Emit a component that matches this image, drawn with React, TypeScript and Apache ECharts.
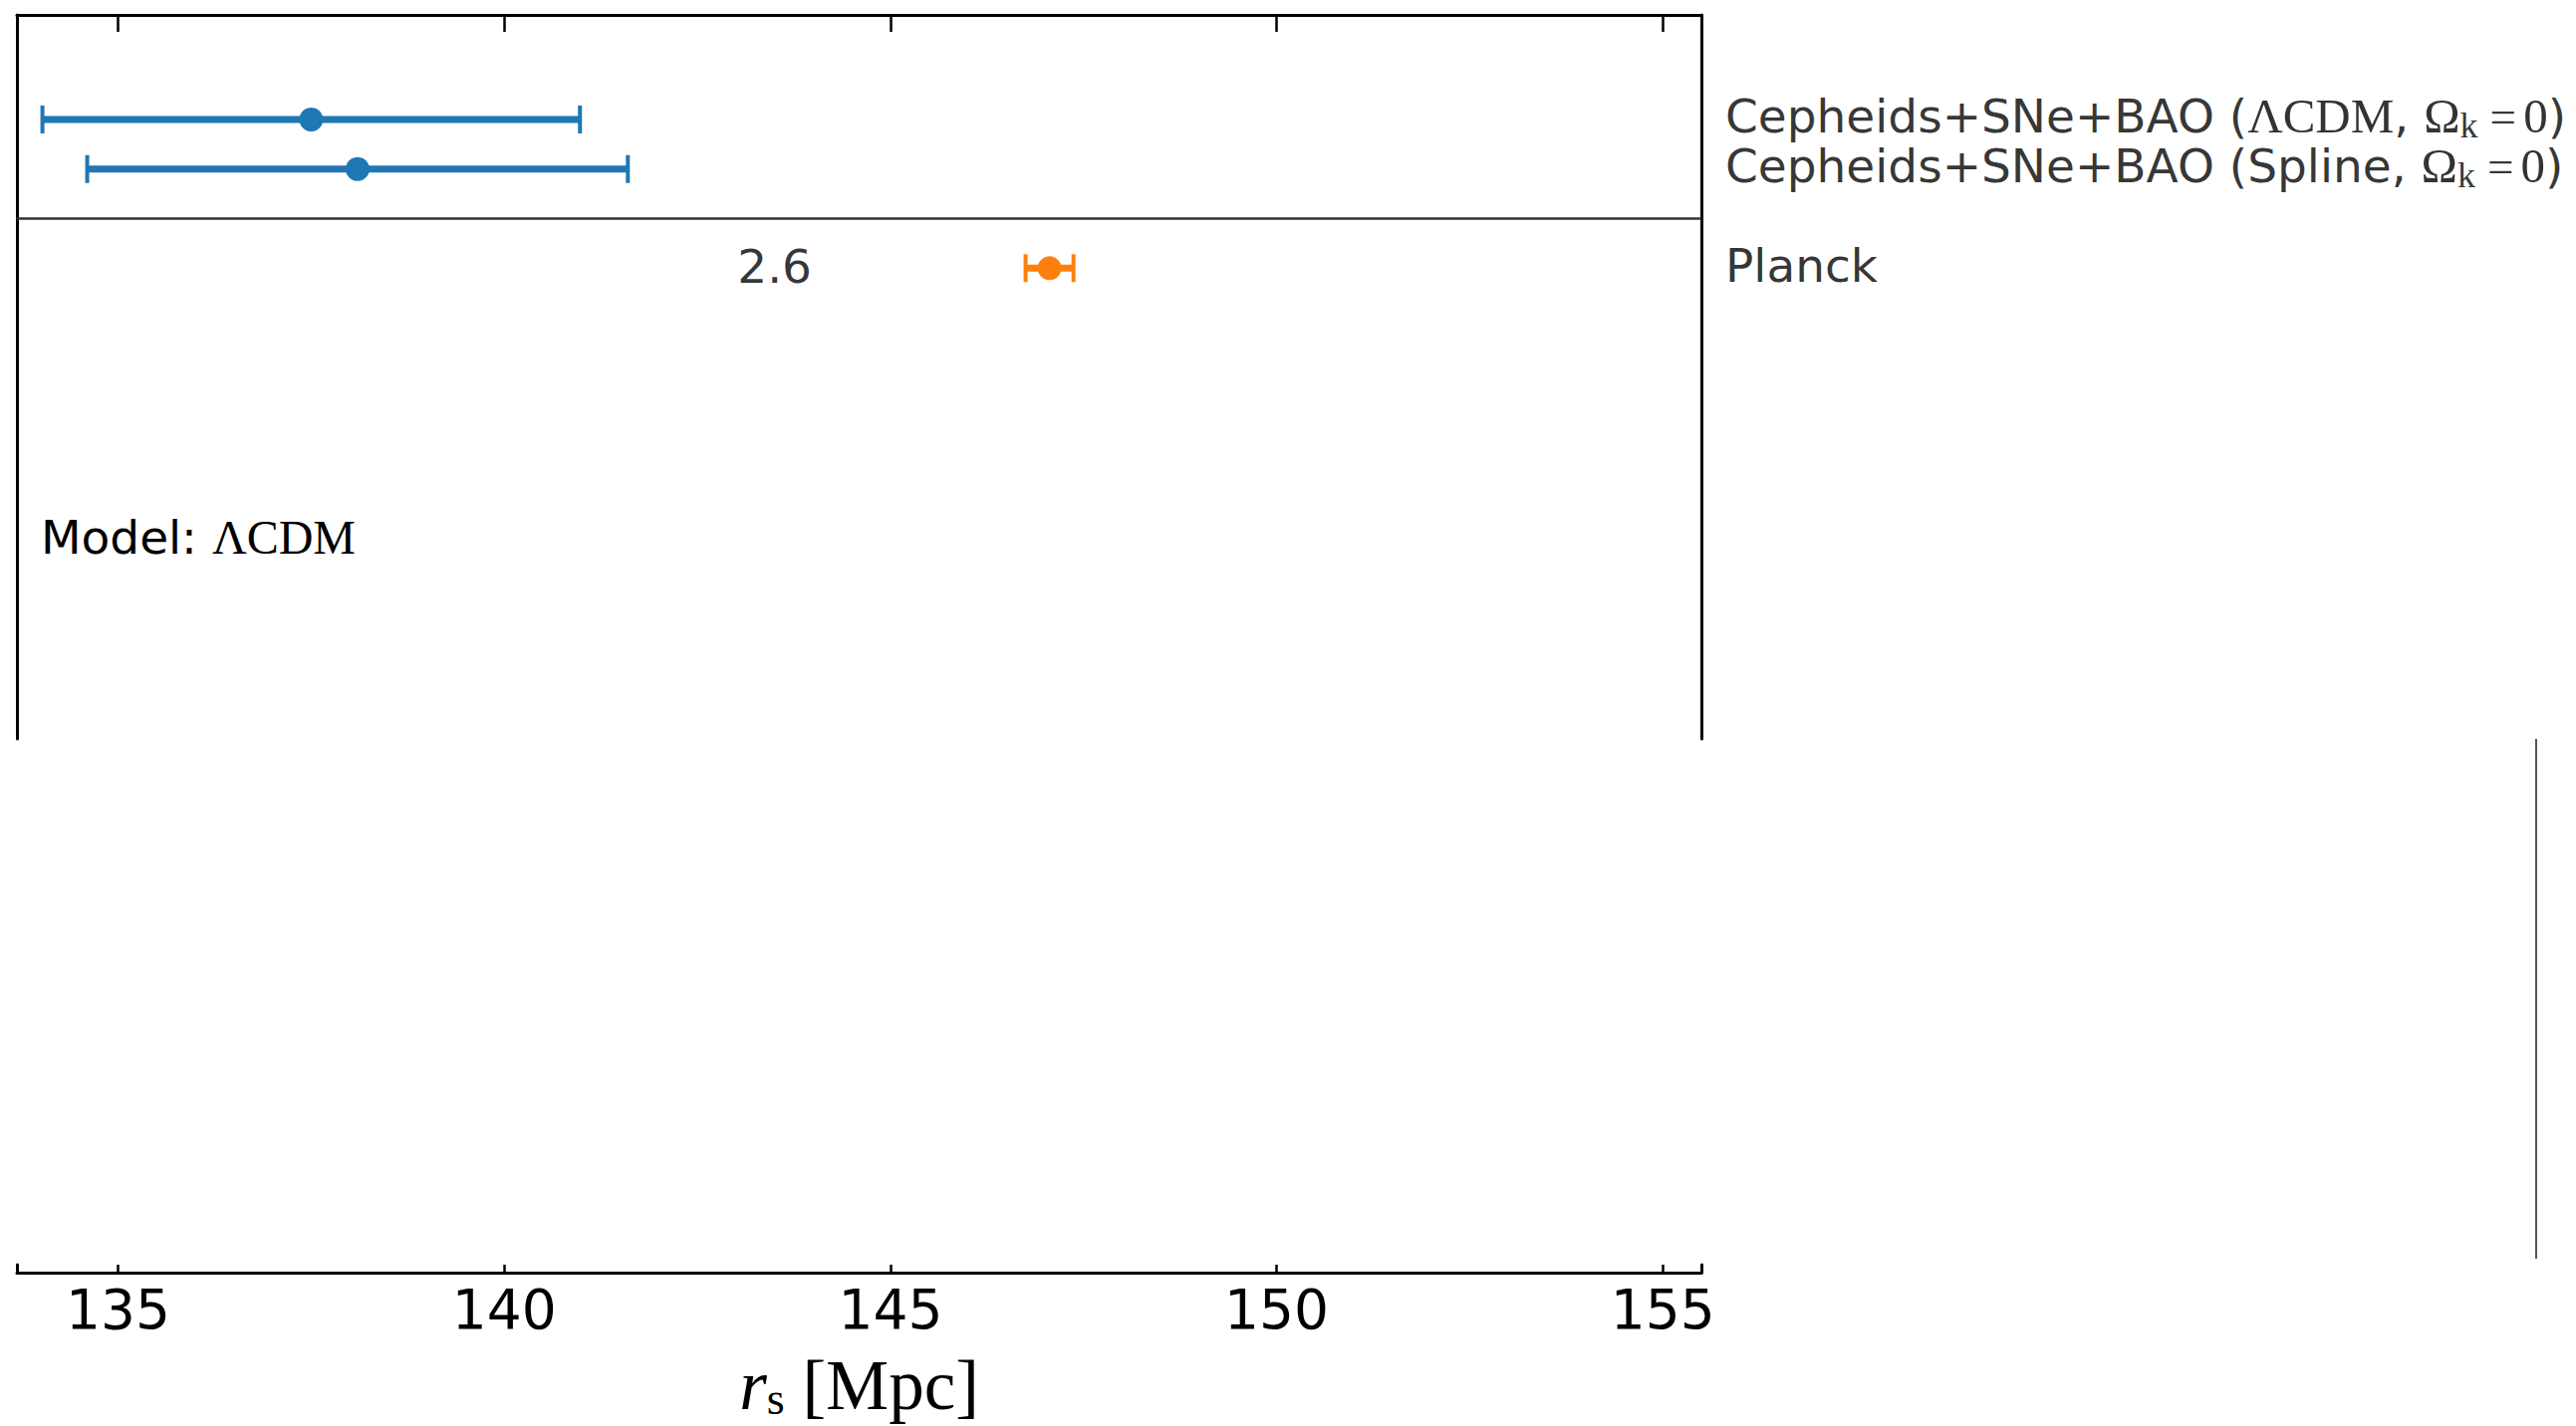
import React, { useEffect, useRef } from 'react';
import * as echarts from 'echarts';

// ---- data ----
const rowPositions = [0, 1, 3];
const rowLabels = [
  '{a|Cepheids+SNe+BAO (}{m|ΛCDM}{a|, }{m|Ω}{s|k}{e|=}{m|0}{a|)}',
  '{a|Cepheids+SNe+BAO (Spline, }{m|Ω}{s|k}{e|=}{m|0}{a|)}',
  '{a|Planck}',
];
const cepheidCenters = [137.5, 138.1];
const cepheidErrors = [3.48, 3.5];
const cepheidRows = [0, 1];
const planckCenters = [147.06];
const planckErrors = [0.31];
const planckRows = [3];
const tensionLabels = ['2.6'];
const tensionX = [143.5];
const tensionRows = [3];
const separatorRows = [2];
const xTicks = [135, 140, 145, 150, 155];
const xRange = [133.69, 155.5];
const yRange = [-2.11, 12.5];

const BLUE = '#1f77b4';
const ORANGE = '#ff7f0e';
const SANS = 'DejaVu Sans';
const SERIF = 'Liberation Serif';

const errorBar = (color: string) => (params: any, api: any) => {
  const c = api.value(0);
  const lo = api.value(1);
  const hi = api.value(2);
  const y = api.value(3);
  const pc = api.coord([c, y]);
  const pl = api.coord([lo, y]);
  const ph = api.coord([hi, y]);
  const capH = 14;
  return {
    type: 'group',
    children: [
      { type: 'line', shape: { x1: pl[0], y1: pl[1], x2: ph[0], y2: ph[1] }, style: { stroke: color, lineWidth: 7 } },
      { type: 'line', shape: { x1: pl[0], y1: pl[1] - capH, x2: pl[0], y2: pl[1] + capH }, style: { stroke: color, lineWidth: 4 } },
      { type: 'line', shape: { x1: ph[0], y1: ph[1] - capH, x2: ph[0], y2: ph[1] + capH }, style: { stroke: color, lineWidth: 4 } },
      { type: 'circle', shape: { cx: pc[0], cy: pc[1], r: 12 }, style: { fill: color } },
    ],
  };
};

export default function App() {
  const ref = useRef<HTMLDivElement>(null);
  useEffect(() => {
    if (!ref.current) return;
    const chart = echarts.init(ref.current, null, { renderer: 'svg' });
    const labelRich = {
      a: { fontFamily: SANS, fontSize: 47, color: '#000', lineHeight: 44 },
      m: { fontFamily: SERIF, fontSize: 49, color: '#000', lineHeight: 44 },
      e: { fontFamily: SERIF, fontSize: 47, color: '#000', lineHeight: 44, padding: [0, 7, 0, 11] },
      s: { fontFamily: SERIF, fontSize: 36, color: '#000', lineHeight: 26, padding: [18, 1, 0, 0], verticalAlign: 'middle' },
    };
    const modelRich = {
      a: { fontFamily: SANS, fontSize: 47, color: '#000' },
      m: { fontFamily: SERIF, fontSize: 48, color: '#000' },
    };
    const option: any = {
      animation: false,
      backgroundColor: '#fff',
      grid: [
        { left: 17, right: 878, top: 15, height: 727 },
        { left: 17, right: 878, top: 1270, height: 8 },
      ],
      xAxis: [
        {
          gridIndex: 0, type: 'value', position: 'top', min: xRange[0], max: xRange[1],
          axisLine: { show: true, onZero: false, lineStyle: { color: '#000', width: 3 } },
          axisTick: { show: true, inside: true, length: 17, customValues: xTicks, lineStyle: { color: '#000', width: 2.5 } },
          axisLabel: { show: false },
          splitLine: { show: false },
        },
        {
          gridIndex: 1, type: 'value', position: 'bottom', min: xRange[0], max: xRange[1],
          axisLine: { show: true, onZero: false, lineStyle: { color: '#000', width: 3 } },
          axisTick: { show: true, inside: true, length: 8, customValues: xTicks, lineStyle: { color: '#000', width: 2.5 } },
          axisLabel: { show: true, customValues: xTicks, fontFamily: SANS, fontSize: 55, color: '#000', margin: 9 },
          splitLine: { show: false },
          name: '{i|r}{s|s}{n| [Mpc]}',
          nameLocation: 'middle',
          nameGap: 80,
          nameTextStyle: {
            rich: {
              i: { fontFamily: SERIF, fontStyle: 'italic', fontSize: 71, color: '#000', lineHeight: 66 },
              s: { fontFamily: SERIF, fontSize: 46, color: '#000', lineHeight: 40, padding: [26, 0, 0, 0], verticalAlign: 'middle' },
              n: { fontFamily: SERIF, fontSize: 71, color: '#000', lineHeight: 66 },
            },
          },
        },
      ],
      yAxis: [
        {
          gridIndex: 0, type: 'value', inverse: true, min: yRange[0], max: yRange[1], position: 'left',
          axisLine: { show: true, onZero: false, lineStyle: { color: '#000', width: 3 } },
          axisTick: { show: false }, axisLabel: { show: false }, splitLine: { show: false },
        },
        {
          gridIndex: 0, type: 'value', inverse: true, min: yRange[0], max: yRange[1], position: 'right',
          axisLine: { show: true, onZero: false, lineStyle: { color: '#000', width: 3 } },
          axisTick: { show: false }, axisLabel: { show: false }, splitLine: { show: false },
        },
        {
          gridIndex: 1, type: 'value', min: 0, max: 1, position: 'left',
          axisLine: { show: true, onZero: false, lineStyle: { color: '#000', width: 3 } },
          axisTick: { show: false }, axisLabel: { show: false }, splitLine: { show: false },
        },
        {
          gridIndex: 1, type: 'value', min: 0, max: 1, position: 'right',
          axisLine: { show: true, onZero: false, lineStyle: { color: '#000', width: 3 } },
          axisTick: { show: false }, axisLabel: { show: false }, splitLine: { show: false },
        },
      ],
      series: [
        {
          name: 'Cepheids+SNe+BAO',
          type: 'custom',
          xAxisIndex: 0, yAxisIndex: 0,
          renderItem: errorBar(BLUE),
          data: cepheidCenters.map((c, i) => [c, c - cepheidErrors[i], c + cepheidErrors[i], cepheidRows[i]]),
          z: 5,
        },
        {
          name: 'Planck',
          type: 'custom',
          xAxisIndex: 0, yAxisIndex: 0,
          renderItem: errorBar(ORANGE),
          data: planckCenters.map((c, i) => [c, c - planckErrors[i], c + planckErrors[i], planckRows[i]]),
          z: 5,
        },
        {
          name: 'labels',
          type: 'scatter',
          xAxisIndex: 0, yAxisIndex: 0,
          symbolSize: 0,
          clip: false,
          silent: true,
          data: rowPositions.map((y) => [xRange[1], y]),
          label: {
            show: true,
            position: 'right',
            distance: 24,
            color: '#000',
            textBorderWidth: 0,
            offset: [0, -3],
            formatter: (p: any) => rowLabels[p.dataIndex],
            rich: labelRich,
          },
          markLine: {
            silent: true,
            symbol: ['none', 'none'],
            label: { show: false },
            lineStyle: { color: '#333', width: 2.5, type: 'solid' },
            data: separatorRows.map((y) => ({ yAxis: y })),
          },
        },
        {
          name: 'tension',
          type: 'scatter',
          xAxisIndex: 0, yAxisIndex: 0,
          symbolSize: 0,
          silent: true,
          data: tensionX.map((x, i) => [x, tensionRows[i]]),
          label: {
            show: true,
            position: 'inside',
            formatter: (p: any) => tensionLabels[p.dataIndex],
            fontFamily: SANS,
            fontSize: 47,
            color: '#000',
            textBorderWidth: 0,
            offset: [0, -2],
          },
        },
      ],
      graphic: [
        {
          type: 'text',
          x: 41,
          y: 539,
          style: {
            text: '{a|Model: }{m|ΛCDM}',
            rich: modelRich,
            verticalAlign: 'middle',
            align: 'left',
          },
        },
        {
          type: 'line',
          shape: { x1: 2546, y1: 742, x2: 2546, y2: 1264 },
          style: { stroke: '#555', lineWidth: 2 },
        },
      ],
    };
    chart.setOption(option);
    return () => chart.dispose();
  }, []);
  return (
    <div
      ref={ref}
      style={{ position: 'fixed', left: 0, top: 0, width: 2586, height: 1432, background: '#fff' }}
    />
  );
}
